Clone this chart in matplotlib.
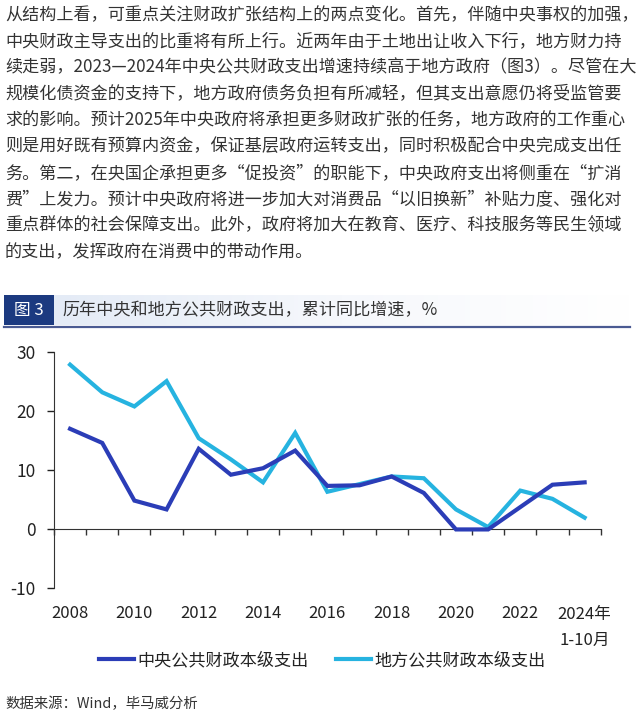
import matplotlib
matplotlib.use('Agg')
import matplotlib.pyplot as plt
import matplotlib.patches as mpatches
from matplotlib.lines import Line2D
from matplotlib.colors import LinearSegmentedColormap
import numpy as np

plt.rcParams['font.family'] = ['Noto Sans CJK SC', 'DejaVu Sans']

# data (%)
years = list(range(2008, 2025))
central = [17.0, 14.6, 4.8, 3.3, 13.6, 9.2, 10.3, 13.3, 7.3, 7.4, 8.9, 6.1, -0.1, -0.1, 3.7, 7.5, 7.9]
local = [27.9, 23.2, 20.8, 25.1, 15.4, 11.8, 7.9, 16.3, 6.3, 7.6, 8.9, 8.6, 3.3, 0.3, 6.5, 5.1, 1.9]
year_labels = ['2008', '2010', '2012', '2014', '2016', '2018', '2020', '2022', '2024年']
last_label = '1-10月'
yticks = [-10, 0, 10, 20, 30]
series_names = ['中央公共财政本级支出', '地方公共财政本级支出']

paragraph = [
    '从结构上看，可重点关注财政扩张结构上的两点变化。首先，伴随中央事权的加强，',
    '中央财政主导支出的比重将有所上行。近两年由于土地出让收入下行，地方财力持',
    '续走弱，2023—2024年中央公共财政支出增速持续高于地方政府（图3）。尽管在大',
    '规模化债资金的支持下，地方政府债务负担有所减轻，但其支出意愿仍将受监管要',
    '求的影响。预计2025年中央政府将承担更多财政扩张的任务，地方政府的工作重心',
    '则是用好既有预算内资金，保证基层政府运转支出，同时积极配合中央完成支出任',
    '务。第二，在央国企承担更多“促投资”的职能下，中央政府支出将侧重在“扩消',
    '费”上发力。预计中央政府将进一步加大对消费品“以旧换新”补贴力度、强化对',
    '重点群体的社会保障支出。此外，政府将加大在教育、医疗、科技服务等民生领域',
    '的支出，发挥政府在消费中的带动作用。',
]

W, H = 640, 724
dark = '#2b3db7'
light = '#26b3e0'
navy = '#1c3a80'
txt = '#333333'

fig = plt.figure(figsize=(W / 100, H / 100), dpi=100)

def fy(py):
    return 1 - py / H

# paragraph
for i, line in enumerate(paragraph):
    fig.text(5 / W, fy(15 + i * 26.3), line, fontsize=12.3, color=txt, va='center', ha='left')

# title bar
grad_ax = fig.add_axes([54 / W, fy(325), 576 / W, 30 / H])
cmap = LinearSegmentedColormap.from_list('g', ['#e4ebf6', '#f6f8fc', '#ffffff'])
grad_ax.imshow(np.linspace(0, 1, 256).reshape(1, -1), aspect='auto', cmap=cmap, extent=[0, 1, 0, 1])
grad_ax.axis('off')
fig.patches.append(mpatches.Rectangle((4 / W, fy(325)), 50 / W, 30 / H, transform=fig.transFigure,
                                      facecolor=navy, edgecolor='none', zorder=2))
fig.add_artist(Line2D([4 / W, 630 / W], [fy(327), fy(327)], transform=fig.transFigure,
                      color='#4a5a92', lw=1.6))
fig.text(29 / W, fy(310), '图 3', fontsize=12, color='white', ha='center', va='center', zorder=3)
fig.text(62 / W, fy(310), '历年中央和地方公共财政支出，累计同比增速，%', fontsize=12.3,
         color=txt, ha='left', va='center')

# chart
ax = fig.add_axes([54 / W, fy(587.7), (600.7 - 54) / W, (587.7 - 352.3) / H])
x = np.arange(len(years))
ax.plot(x, central, color=dark, lw=3, solid_joinstyle='miter', zorder=3)
ax.plot(x, local, color=light, lw=3, solid_joinstyle='miter', zorder=2)

ax.set_xlim(-0.5, len(years) - 0.5)
ax.set_ylim(-10, 30)
ax.set_yticks(yticks)
ax.set_yticklabels([str(v) for v in yticks])
ax.tick_params(axis='y', direction='out', length=5, width=1, pad=8, labelsize=12.5,
               colors='#222222')
ax.spines['top'].set_visible(False)
ax.spines['right'].set_visible(False)
ax.spines['left'].set_color('#333333')
ax.spines['bottom'].set_position(('data', 0))
ax.spines['bottom'].set_color('#333333')
ax.set_xticks(np.arange(-0.5, len(years), 1.0))
ax.set_xticklabels([])
ax.tick_params(axis='x', direction='out', length=4.5, width=1, colors='#333333')

ypix_lab = (587.7 - 614) / (587.7 - 352.3)
ypix_lab2 = (587.7 - 640) / (587.7 - 352.3)
tr = ax.get_xaxis_transform()
for i, lab in enumerate(year_labels):
    ax.text(2 * i, ypix_lab, lab, transform=tr, ha='center', va='center', fontsize=12,
            color='#222222')
ax.text(len(years) - 1, ypix_lab2, last_label, transform=tr, ha='center', va='center',
        fontsize=12, color='#222222')

# legend
handles = [Line2D([], [], color=dark, lw=3), Line2D([], [], color=light, lw=3)]
fig.legend(handles, series_names, loc='center', bbox_to_anchor=(0.504, fy(660)), ncol=2,
           frameon=False, fontsize=12.3, handlelength=2.05, handletextpad=0.2,
           columnspacing=1.6, labelcolor='#222222')

# source
fig.text(5 / W, fy(704), '数据来源：Wind，毕马威分析', fontsize=10.4, color=txt, ha='left', va='center')

fig.savefig('out.png', dpi=100, facecolor='white')
